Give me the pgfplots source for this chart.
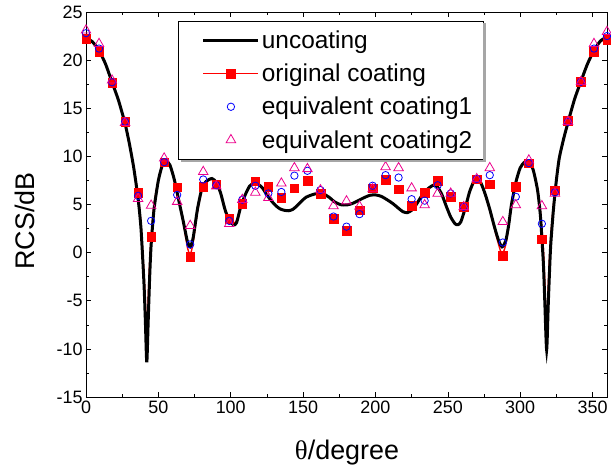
\documentclass[border=0pt]{standalone}
\usepackage{fontspec}
\setmainfont{Liberation Sans}
\newfontfamily\serifgreek{Liberation Serif}
\usepackage{pgfplots}
\pgfplotsset{compat=1.18}
\usepackage{pgfplotstable}

\pgfplotstableread{
x unc orig
0 22.3 22.2
4.5 21.9 21.8
9 21.0 20.9
13.5 19.6 19.5
18 17.7 17.65
22.5 15.8 15.8
27 13.4 13.5
30 11.3 11.4
33 8.8 8.9
36 5.6 6.0
38 2.5 3.0
40 -3 -2.0
41 -7 -5.0
42 -11.4 -8.7
43 -7 -4.5
44 -2.5 -1.0
45 0.8 1.6
47 4.5 5.0
50 7.5 7.6
53 9.2 9.2
55.5 9.5 9.5
58 9.1 9.0
61 7.6 7.6
64 5.5 5.6
67 3.4 3.3
70 1.2 0.6
72 0.6 -0.2
74 1.5 1.0
77 4.5 4.2
80 6.6 6.5
83 7.4 7.4
87 7.7 7.6
90 7.3 7.2
93 6.2 6.2
96 4.5 4.6
99 3.3 3.5
102 2.9 3.1
104 3.1 3.3
107 4.8 4.8
110 6.0 6.0
113 6.9 6.9
116 7.2 7.2
119 7.1 7.1
122 6.7 6.7
125 6.0 6.0
128 5.4 5.4
131 4.9 4.9
134 4.55 4.55
137 4.4 4.4
140 4.35 4.35
143 4.5 4.5
146 4.9 4.9
149 5.35 5.35
152 5.75 5.75
156 6.0 6.0
160 6.15 6.15
164 6.1 6.1
168 5.75 5.75
172 5.25 5.25
176 4.98 4.98
180 4.95 4.95
184 5.1 5.1
188 5.4 5.4
192 5.7 5.7
196 5.95 5.95
200 6.0 6.0
204 5.85 5.85
208 5.5 5.5
212 5.1 5.1
216 4.6 4.6
219 4.25 4.25
222 4.15 4.15
225 4.4 4.4
228 4.95 4.95
232 5.9 5.9
236 6.6 6.6
240 7.0 7.0
243 6.8 6.8
246 6.0 6.0
249 4.8 4.8
252 3.7 3.7
255 3.0 3.0
257 2.9 2.9
259 3.2 3.2
262 4.6 4.6
265 6.3 6.3
268 7.4 7.4
270 7.65 7.6
273 7.2 7.1
276 6.0 5.9
279 4.5 4.4
282 2.8 2.6
285 1.3 0.9
287.5 0.6 -0.2
290 1.2 0.8
292 2.8 2.6
294 5.0 5.0
297 7.3 7.2
300 8.8 8.8
303 9.4 9.4
306 9.45 9.4
309 8.6 8.6
312 6.5 6.7
314 3.8 4.3
316 -1 0.5
317 -5 -3.0
318.3 -10.1 -8.2
319.5 -5 -3.0
321 0.5 1.5
323 4.5 5.0
325 7.5 7.7
327 9.8 9.9
330 11.8 11.9
333 13.5 13.6
337.5 15.9 15.9
342 17.8 17.8
346.5 19.6 19.6
351 21.0 20.9
355.5 22.0 21.9
360 22.4 22.2
}\curvetable

\pgfplotstableread{
x orig eqa eqb
0 22.2 22.8 23.1
9 20.9 21.2 21.7
18 17.65 17.7 17.9
27 13.6 13.6 13.5
36 6.2 5.9 5.6
45 1.65 3.3 4.9
54 9.4 9.4 9.8
63 6.8 6.0 5.3
72 -0.4 0.85 2.8
81 6.85 7.6 8.4
90 7.1 7.0 6.9
99 3.55 3.3 3.0
108 5.1 5.5 5.5
117 7.4 6.95 6.25
126 6.85 6.15 5.7
135 5.7 6.3 7.2
144 6.7 8.0 8.8
153 7.45 8.5 8.7
162 6.15 6.5 6.5
171 3.5 3.75 4.85
180 2.3 2.7 5.35
189 4.4 4.0 4.8
198 6.7 6.95 6.6
207 7.6 8.05 8.9
216 6.6 7.8 8.8
225 4.9 5.55 6.7
234 6.2 5.4 4.95
243 7.45 7.0 6.15
252 5.8 6.15 6.15
261 4.8 4.75 4.75
270 7.65 7.65 7.65
279 7.1 8.05 8.8
288 -0.3 1.05 3.2
297 6.85 5.8 4.95
306 9.3 9.3 9.6
315 1.4 3.0 4.85
324 6.5 6.25 6.15
333 13.7 13.6 13.6
342 17.75 17.75 17.75
351 20.9 21.2 21.7
360 22.15 22.5 22.95
}\marktable

\begin{document}
\begin{tikzpicture}
\begin{axis}[
  scale only axis, width=521bp, height=385bp,
  xmin=0, xmax=360, ymin=-15, ymax=25,
  xtick={0,50,...,350}, ytick={-15,-10,...,25},
  minor x tick num=1, minor y tick num=1,
  tick align=inside,
  major tick length=5bp, minor tick length=3bp,
  axis line style={line width=0.8pt},
  every tick/.style={black, line width=0.6pt},
  clip=false,
  /pgf/number format/assume math mode=true,
  tick label style={font=\fontsize{18}{18}\selectfont},
  xlabel={{\serifgreek θ}/degree},
  ylabel={RCS/dB},
  label style={font=\fontsize{27}{27}\selectfont},
  xlabel style={at={(axis description cs:0.501,-0.143)}, anchor=center},
  ylabel style={at={(axis description cs:-0.117,0.457)}, anchor=center},
  legend cell align=left,
  legend style={name=leg, at={(axis description cs:0.177,0.977)}, anchor=north west,
    font=\fontsize{24.5}{28}\selectfont, draw=black, fill=white,
    inner xsep=9bp, inner ysep=8bp, row sep=10bp, outer sep=0pt},
]
\addlegendimage{legend image code/.code={\path (0bp,0bp); \draw[black, line width=3pt] (16bp,0bp) -- (71bp,0bp);}}
\addlegendentry{uncoating}
\addlegendimage{legend image code/.code={\path (0bp,0bp); \draw[red, line width=1bp] (16bp,0bp) -- (71bp,0bp); \fill[red] (39.2bp,-4.3bp) rectangle (47.8bp,4.3bp);}}
\addlegendentry{original coating}
\addlegendimage{legend image code/.code={\path (0bp,0bp) (71bp,0bp); \draw[blue, line width=0.8pt] (43.5bp,0bp) circle[radius=3.7bp];}}
\addlegendentry{equivalent coating1}
\addlegendimage{legend image code/.code={\path (0bp,0bp) (71bp,0bp); \draw[magenta, line width=0.8pt] (43.5bp,5.5bp) -- (48.26bp,-2.75bp) -- (38.74bp,-2.75bp) -- cycle;}}
\addlegendentry{equivalent coating2}

\addplot[forget plot, red, line width=1.4pt, smooth, tension=0.4] table[x=x, y=orig] {\curvetable};
\addplot[forget plot, black, line width=3pt, smooth, tension=0.4] table[x=x, y=unc] {\curvetable};
\addplot[forget plot, only marks, red, mark=square*, mark size=4.3pt] table[x=x, y=orig] {\marktable};
\addplot[forget plot, only marks, blue, mark=o, mark size=3.7pt, mark options={line width=0.8pt}] table[x=x, y=eqa] {\marktable};
\addplot[forget plot, only marks, magenta, mark=triangle, mark size=5.5pt, mark options={line width=0.8pt}] table[x=x, y=eqb] {\marktable};
\end{axis}
\fill[gray!70] ([xshift=2.5bp,yshift=-2.5bp]leg.south west) rectangle ([xshift=2.5bp]leg.south east);
\fill[gray!70] ([yshift=-2.5bp]leg.south east) rectangle ([xshift=2.5bp,yshift=-2.5bp]leg.north east);
\pgfresetboundingbox
\useasboundingbox (-86bp,-75bp) rectangle (525bp,397bp);
\end{tikzpicture}
\end{document}
